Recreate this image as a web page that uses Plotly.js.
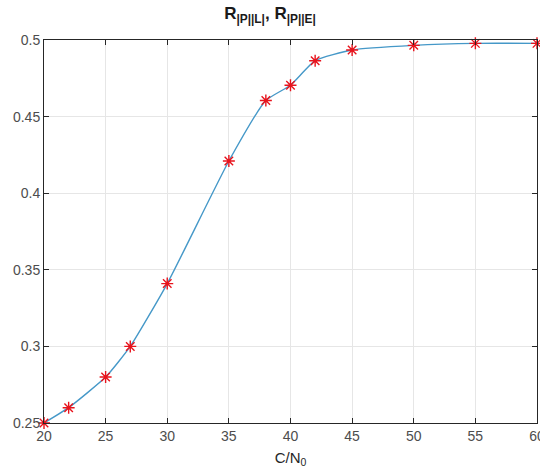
<!DOCTYPE html>
<html>
<head>
<meta charset="utf-8">
<script src="https://cdn.plot.ly/plotly-3.0.1.min.js"></script>
<style>html,body{margin:0;padding:0;background:#fff;}#chart{width:540px;height:471px;}</style>
</head>
<body>
<div id="chart"></div>
<script>
const cn0 = [20, 22, 25, 27, 30, 35, 38, 40, 42, 45, 50, 55, 60];
const ratio = [0.25, 0.26, 0.28, 0.30, 0.341, 0.421, 0.4605, 0.4705, 0.4865, 0.4935, 0.4965, 0.4978, 0.4978];
const xTicks = [20, 25, 30, 35, 40, 45, 50, 55, 60];
const yTicks = [0.25, 0.3, 0.35, 0.4, 0.45, 0.5];
const yTickText = ['0.25', '0.3', '0.35', '0.4', '0.45', '0.5'];

const traces = [
  {x: cn0, y: ratio, mode: 'lines', line: {color: '#4598c8', width: 1.4, shape: 'spline', smoothing: 0.5}, hoverinfo: 'skip', cliponaxis: false},
  {x: cn0, y: ratio, mode: 'markers', marker: {symbol: 'asterisk-open', size: 10, color: '#e8131c', line: {color: '#e8131c', width: 1.4}}, cliponaxis: false}
];

const axisCommon = {
  showline: true, linecolor: '#262626', linewidth: 1, mirror: 'ticks',
  ticks: 'inside', ticklen: 5, tickcolor: '#262626',
  showgrid: true, gridcolor: '#e6e6e6', gridwidth: 1, zeroline: false,
  ticklabeloverflow: 'allow',
  tickfont: {family: 'Liberation Sans, Arial, sans-serif', size: 14, color: '#4d4d4d'}
};

const layout = {
  width: 540, height: 471,
  margin: {l: 44, r: 3, t: 40, b: 48},
  paper_bgcolor: '#ffffff', plot_bgcolor: '#ffffff',
  showlegend: false,
  title: {text: '<b>R<sub>|P||L|</sub>, R<sub>|P||E|</sub></b>', x: 0.5, xanchor: 'center', y: 0.985, yanchor: 'top',
          font: {family: 'Liberation Sans, Arial, sans-serif', size: 17, color: '#1a1a1a'}},
  xaxis: Object.assign({}, axisCommon, {
    range: [20, 60.00001], tickvals: xTicks, ticktext: xTicks.map(String),
    title: {text: 'C/N<sub>0</sub>', standoff: 9, font: {family: 'Liberation Sans, Arial, sans-serif', size: 15, color: '#262626'}}
  }),
  yaxis: Object.assign({}, axisCommon, {
    range: [0.25, 0.5], tickvals: yTicks, ticktext: yTickText
  })
};

Plotly.newPlot('chart', traces, layout, {staticPlot: true, displayModeBar: false});
</script>
</body>
</html>
